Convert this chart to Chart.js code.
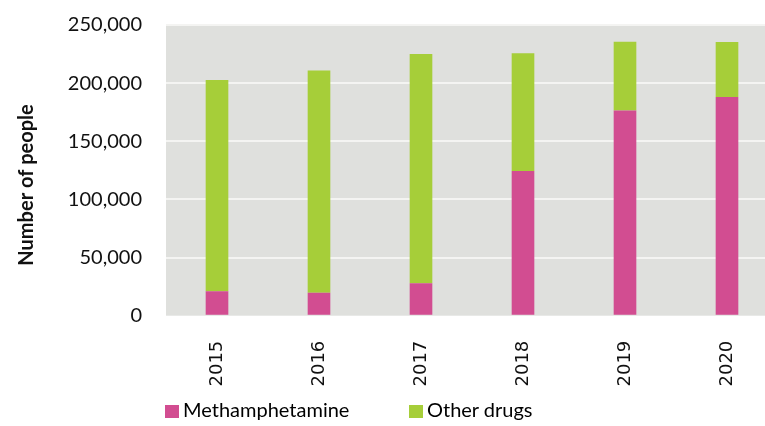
<!DOCTYPE html>
<html>
<head>
<meta charset="utf-8">
<script src="https://cdn.jsdelivr.net/npm/chart.js@4.4.1/dist/chart.umd.min.js"></script>
<style>
  html, body { margin: 0; padding: 0; background: #fff; overflow: hidden; }
  #wrap { position: relative; width: 780px; height: 426px; }
  #legend { position: absolute; left: 165px; top: 397px; font-family: Lato, sans-serif; font-size: 20px; color: #000; white-space: nowrap; }
  #legend span.item { position: absolute; top: 0; }
  #legend i { display: inline-block; width: 14px; height: 13px; margin-right: 4px; vertical-align: -1px; }
</style>
</head>
<body>
<div id="wrap">
  <canvas id="drugChart" width="780" height="426"></canvas>
  <div id="legend">
    <span class="item" style="left:0"><i style="background:#D24D91"></i>Methamphetamine</span>
    <span class="item" style="left:244px"><i style="background:#A6CE39"></i>Other drugs</span>
  </div>
</div>
<script>
// 数据
var years = ['2015', '2016', '2017', '2018', '2019', '2020'];
var methamphetamine = [21000, 19800, 27900, 124400, 176400, 188000];
var otherDrugs = [181600, 191100, 197100, 101200, 59200, 47300];
var yTicks = [0, 50000, 100000, 150000, 200000, 250000];

// 绘图区灰色背景
var plotBackground = {
    id: 'plotBackground',
    beforeDraw: function(chart) {
        var a = chart.chartArea;
        var ctx = chart.ctx;
        ctx.save();
        ctx.fillStyle = '#DFE0DD';
        ctx.fillRect(a.left, a.top, a.right - a.left, a.bottom - a.top);
        ctx.restore();
    }
};

new Chart(document.getElementById('drugChart').getContext('2d'), {
    type: 'bar',
    data: {
        labels: years,
        datasets: [{
            label: 'Methamphetamine',
            data: methamphetamine,
            backgroundColor: '#D24D91',
            barPercentage: 0.222,
            categoryPercentage: 1
        }, {
            label: 'Other drugs',
            data: otherDrugs,
            backgroundColor: '#A6CE39',
            barPercentage: 0.222,
            categoryPercentage: 1
        }]
    },
    options: {
        responsive: false,
        animation: false,
        layout: { padding: { top: 25, right: 2, bottom: 0, left: 0 } },
        plugins: {
            legend: { display: false },
            tooltip: { enabled: false }
        },
        scales: {
            x: {
                stacked: true,
                grid: { display: false, drawTicks: false },
                border: { display: false },
                ticks: {
                    color: '#111',
                    font: { family: 'DejaVu Sans', size: 18 },
                    minRotation: 90,
                    maxRotation: 90,
                    padding: 25
                },
                afterFit: function(scale) { scale.height = 110.3; }
            },
            y: {
                stacked: true,
                min: 0,
                max: 250000,
                afterBuildTicks: function(scale) {
                    scale.ticks = yTicks.map(function(v) { return { value: v }; });
                },
                grid: {
                    color: function(c) { return c.tick && c.tick.value === 0 ? 'rgba(0,0,0,0)' : '#F4F4F2'; },
                    lineWidth: 2,
                    drawTicks: false
                },
                border: { display: false },
                ticks: {
                    color: '#111',
                    font: { family: 'Lato', size: 20 },
                    padding: 24,
                    callback: function(v) { return v.toLocaleString('en-US'); }
                },
                title: {
                    display: true,
                    // 末尾空格让标题整体下移，与原图位置一致
                    text: 'Number of people      ',
                    color: '#111',
                    font: { family: 'Lato', size: 20, weight: 'bold' },
                    padding: { top: 15, bottom: 0 }
                },
                afterFit: function(scale) {
                    scale.width = 166;
                    // ticks.padding 会被加到上下留白里，这里去掉
                    scale.paddingTop = 0;
                    scale.paddingBottom = 0;
                }
            }
        }
    },
    plugins: [plotBackground]
});
</script>
</body>
</html>
